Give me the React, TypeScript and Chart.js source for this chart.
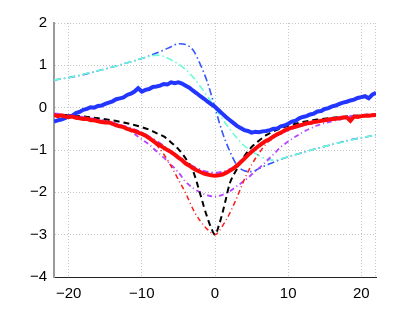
import { useEffect, useRef } from "react";
import { Chart, registerables } from "chart.js";

Chart.register(...registerables);

const xTicks = [-20, -10, 0, 10, 20];
const yTicks = [-4, -3, -2, -1, 0, 1, 2];

const xNoisy = [
  -22, -21.5, -21, -20.5, -20, -19.5, -19, -18.5, -18, -17.5, -17, -16.5, -16, -15.5, -15, -14.5,
  -14, -13.5, -13, -12.5, -12, -11.5, -11, -10.5, -10, -9.5, -9, -8.5, -8, -7.5, -7, -6.5, -6,
  -5.5, -5, -4.5, -4, -3.5, -3, -2.5, -2, -1.5, -1, -0.5, 0, 0.5, 1, 1.5, 2, 2.5, 3, 3.5, 4, 4.5,
  5, 5.5, 6, 6.5, 7, 7.5, 8, 8.5, 9, 9.5, 10, 10.5, 11, 11.5, 12, 12.5, 13, 13.5, 14, 14.5, 15,
  15.5, 16, 16.5, 17, 17.5, 18, 18.5, 19, 19.5, 20, 20.5, 21, 21.5, 22,
];

const blueMeasured = [
  -0.33, -0.3, -0.28, -0.25, -0.21, -0.19, -0.13, -0.1, -0.05, -0.03, 0.01, 0.0, 0.04, 0.05, 0.09, 0.12,
  0.15, 0.2, 0.22, 0.24, 0.3, 0.33, 0.38, 0.46, 0.38, 0.42, 0.44, 0.49, 0.5, 0.52, 0.56, 0.55, 0.6,
  0.58, 0.6, 0.57, 0.52, 0.47, 0.4, 0.34, 0.27, 0.21, 0.14, 0.08, 0.02, -0.06, -0.14, -0.22, -0.29, -0.36, -0.43, -0.48, -0.53, -0.55,
  -0.59, -0.57, -0.58, -0.56, -0.55, -0.53, -0.5, -0.49, -0.44, -0.42, -0.38, -0.33, -0.31, -0.25, -0.22, -0.2, -0.16, -0.14, -0.09, -0.08, -0.03,
  -0.01, 0.03, 0.05, 0.09, 0.12, 0.14, 0.17, 0.19, 0.23, 0.25, 0.27, 0.22, 0.31, 0.35,
];

const redMeasured = [
  -0.17, -0.2, -0.18, -0.21, -0.22, -0.21, -0.24, -0.25, -0.27, -0.26, -0.3, -0.3, -0.32, -0.34, -0.35, -0.35,
  -0.38, -0.42, -0.44, -0.46, -0.5, -0.53, -0.55, -0.59, -0.62, -0.66, -0.72, -0.78, -0.85, -0.89, -0.95, -1.0, -1.05,
  -1.11, -1.18, -1.24, -1.32, -1.37, -1.43, -1.48, -1.52, -1.56, -1.58, -1.6, -1.61, -1.6, -1.58, -1.54, -1.49, -1.44, -1.37, -1.29, -1.21, -1.12,
  -1.04, -0.97, -0.9, -0.84, -0.78, -0.74, -0.68, -0.63, -0.59, -0.54, -0.5, -0.47, -0.45, -0.42, -0.4, -0.37, -0.36, -0.34, -0.33, -0.31, -0.3,
  -0.28, -0.27, -0.26, -0.25, -0.23, -0.23, -0.31, -0.21, -0.22, -0.2, -0.19, -0.19, -0.18, -0.17,
];

const xSmooth = [
  -22, -20, -18, -16, -14, -12, -10, -9, -8, -7, -6, -5, -4, -3, -2, -1, 0, 1, 2, 3, 4, 5, 6, 7, 8, 9, 10,
  12, 14, 16, 18, 20, 22,
];

const blueModel = [
  0.65, 0.71, 0.78, 0.87, 0.96, 1.06, 1.16, 1.22, 1.29, 1.36, 1.44, 1.51, 1.49, 1.36, 1.02, 0.58, 0,
  -0.58, -1.02, -1.36, -1.49, -1.51, -1.44, -1.36, -1.29, -1.22, -1.16, -1.06, -0.96, -0.87, -0.78, -0.71, -0.65,
];

const cyanModel = [
  0.65, 0.71, 0.79, 0.87, 0.96, 1.06, 1.16, 1.21, 1.24, 1.21, 1.13, 1.03, 0.9, 0.72, 0.5, 0.26, 0,
  -0.26, -0.5, -0.72, -0.9, -1.03, -1.13, -1.21, -1.24, -1.21, -1.16, -1.06, -0.96, -0.87, -0.79, -0.71, -0.65,
];

const violetWide = [
  -0.15, -0.18, -0.22, -0.28, -0.35, -0.5, -0.75, -0.87, -1.03, -1.18, -1.35, -1.53, -1.75, -1.9, -2.0, -2.07, -2.1,
  -2.06, -1.98, -1.85, -1.73, -1.58, -1.43, -1.27, -1.1, -0.93, -0.8, -0.58, -0.42, -0.32, -0.25, -0.2, -0.16,
];

const violetFit = [
  -0.15, -0.19, -0.24, -0.3, -0.37, -0.47, -0.6, -0.7, -0.8, -0.92, -1.05, -1.18, -1.3, -1.4, -1.48, -1.53, -1.55,
  -1.53, -1.47, -1.36, -1.2, -1.04, -0.9, -0.78, -0.68, -0.6, -0.52, -0.41, -0.33, -0.27, -0.22, -0.19, -0.16,
];

const redModel = [
  -0.17, -0.2, -0.25, -0.3, -0.37, -0.48, -0.62, -0.72, -0.88, -1.1, -1.38, -1.7, -2.02, -2.4, -2.68, -2.88, -3.0,
  -2.8, -2.5, -2.12, -1.7, -1.35, -1.08, -0.85, -0.72, -0.6, -0.52, -0.41, -0.33, -0.27, -0.23, -0.2, -0.17,
];

const xBlack = [
  -22, -20, -18, -16, -14, -12, -10, -9, -8, -7, -6, -5, -4, -3, -2, -1.5, -1, -0.5, 0, 0.5, 1, 1.5, 2,
  3, 4, 5, 6, 7, 8, 9, 10, 12, 14, 16, 18, 20, 22,
];

const blackModel = [
  -0.15, -0.18, -0.21, -0.25, -0.3, -0.37, -0.46, -0.52, -0.6, -0.68, -0.82, -0.98, -1.2, -1.5, -2.05, -2.35,
  -2.62, -2.85, -3.0, -2.8, -2.5, -2.15, -1.8, -1.45, -1.15, -0.93, -0.78, -0.65, -0.56, -0.49, -0.43, -0.34,
  -0.28, -0.24, -0.21, -0.18, -0.16,
];

const pts = (xs: number[], ys: number[]) => xs.map((x, i) => ({ x, y: ys[i] }));
const minus = (v: number | string) => String(v).replace("-", "\u2212");

const edgePlugin = {
  id: "edge",
  beforeDatasetsDraw(chart: any) {
    const { ctx, chartArea } = chart;
    ctx.save();
    ctx.strokeStyle = "#c4c4c4";
    ctx.lineWidth = 1;
    ctx.setLineDash([1, 2]);
    ctx.beginPath();
    ctx.moveTo(Math.round(chartArea.right) - 0.5, chartArea.top);
    ctx.lineTo(Math.round(chartArea.right) - 0.5, chartArea.bottom);
    ctx.stroke();
    ctx.restore();
  },
};

export default function App() {
  const ref = useRef<HTMLCanvasElement | null>(null);

  useEffect(() => {
    if (!ref.current) return;
    const font = { family: "'Liberation Sans', Arial, sans-serif", size: 15 };
    const chart = new Chart(ref.current, {
      type: "line",
      data: {
        datasets: [
          {
            data: pts(xNoisy, redMeasured),
            borderColor: "#ff0a0a",
            borderWidth: 4,
            pointRadius: 0,
            tension: 0,
          },
          {
            data: pts(xNoisy, blueMeasured),
            borderColor: "#2336ff",
            borderWidth: 4,
            pointRadius: 0,
            tension: 0,
          },
          {
            data: pts(xSmooth, violetFit),
            borderColor: "#b444ff",
            borderWidth: 3,
            borderDash: [6, 3, 1.5, 3],
            pointRadius: 0,
            cubicInterpolationMode: "monotone",
          },
          {
            data: pts(xBlack, blackModel),
            borderColor: "#000000",
            borderWidth: 2,
            borderDash: [6, 4],
            pointRadius: 0,
            cubicInterpolationMode: "monotone",
          },
          {
            data: pts(xSmooth, redModel),
            borderColor: "#ff1a1a",
            borderWidth: 1.5,
            borderDash: [5, 3, 1, 3],
            pointRadius: 0,
            cubicInterpolationMode: "monotone",
          },
          {
            data: pts(xSmooth, violetWide),
            borderColor: "#b444ff",
            borderWidth: 1.8,
            borderDash: [5, 3, 1, 3],
            pointRadius: 0,
            cubicInterpolationMode: "monotone",
          },
          {
            data: pts(xSmooth, cyanModel),
            borderColor: "#66ffd6",
            borderWidth: 1.6,
            borderDash: [7, 3, 1.5, 3],
            pointRadius: 0,
            cubicInterpolationMode: "monotone",
          },
          {
            data: pts(xSmooth, blueModel),
            borderColor: "#3355ff",
            borderWidth: 1.6,
            borderDash: [7, 3, 1.5, 3],
            pointRadius: 0,
            cubicInterpolationMode: "monotone",
          },
        ],
      },
      options: {
        animation: false,
        responsive: false,
        layout: { padding: { top: 23, right: 39, left: 0, bottom: 0 } },
        plugins: { legend: { display: false }, tooltip: { enabled: false } },
        scales: {
          x: {
            type: "linear",
            min: -22,
            max: 22,
            afterBuildTicks: (s: any) => {
              s.ticks = xTicks.map((v) => ({ value: v }));
            },
            afterFit: (s: any) => {
              s.height = 35;
            },
            grid: {
              color: "#c4c4c4",
              lineWidth: 1,
              drawTicks: false,
            },
            border: { display: true, color: "#222", width: 1, dash: [1, 2] },
            ticks: {
              color: "#000",
              font,
              padding: 8,
              maxRotation: 0,
              callback: (v: any) => minus(v),
            },
          },
          y: {
            type: "linear",
            min: -4,
            max: 2,
            afterBuildTicks: (s: any) => {
              s.ticks = yTicks.map((v) => ({ value: v }));
            },
            afterFit: (s: any) => {
              s.width = 54;
            },
            grid: {
              color: "#c4c4c4",
              lineWidth: 1,
              drawTicks: false,
            },
            border: { display: true, color: "#9a9a9a", width: 2, dash: [1, 2] },
            ticks: {
              color: "#000",
              font,
              padding: 7,
              callback: (v: any) => minus(v),
            },
          },
        },
      },
      plugins: [edgePlugin],
    } as any);
    return () => chart.destroy();
  }, []);

  return (
    <div style={{ position: "absolute", left: 0, top: 0, width: 415, height: 312, background: "#fff" }}>
      <canvas ref={ref} width={415} height={312} />
    </div>
  );
}
